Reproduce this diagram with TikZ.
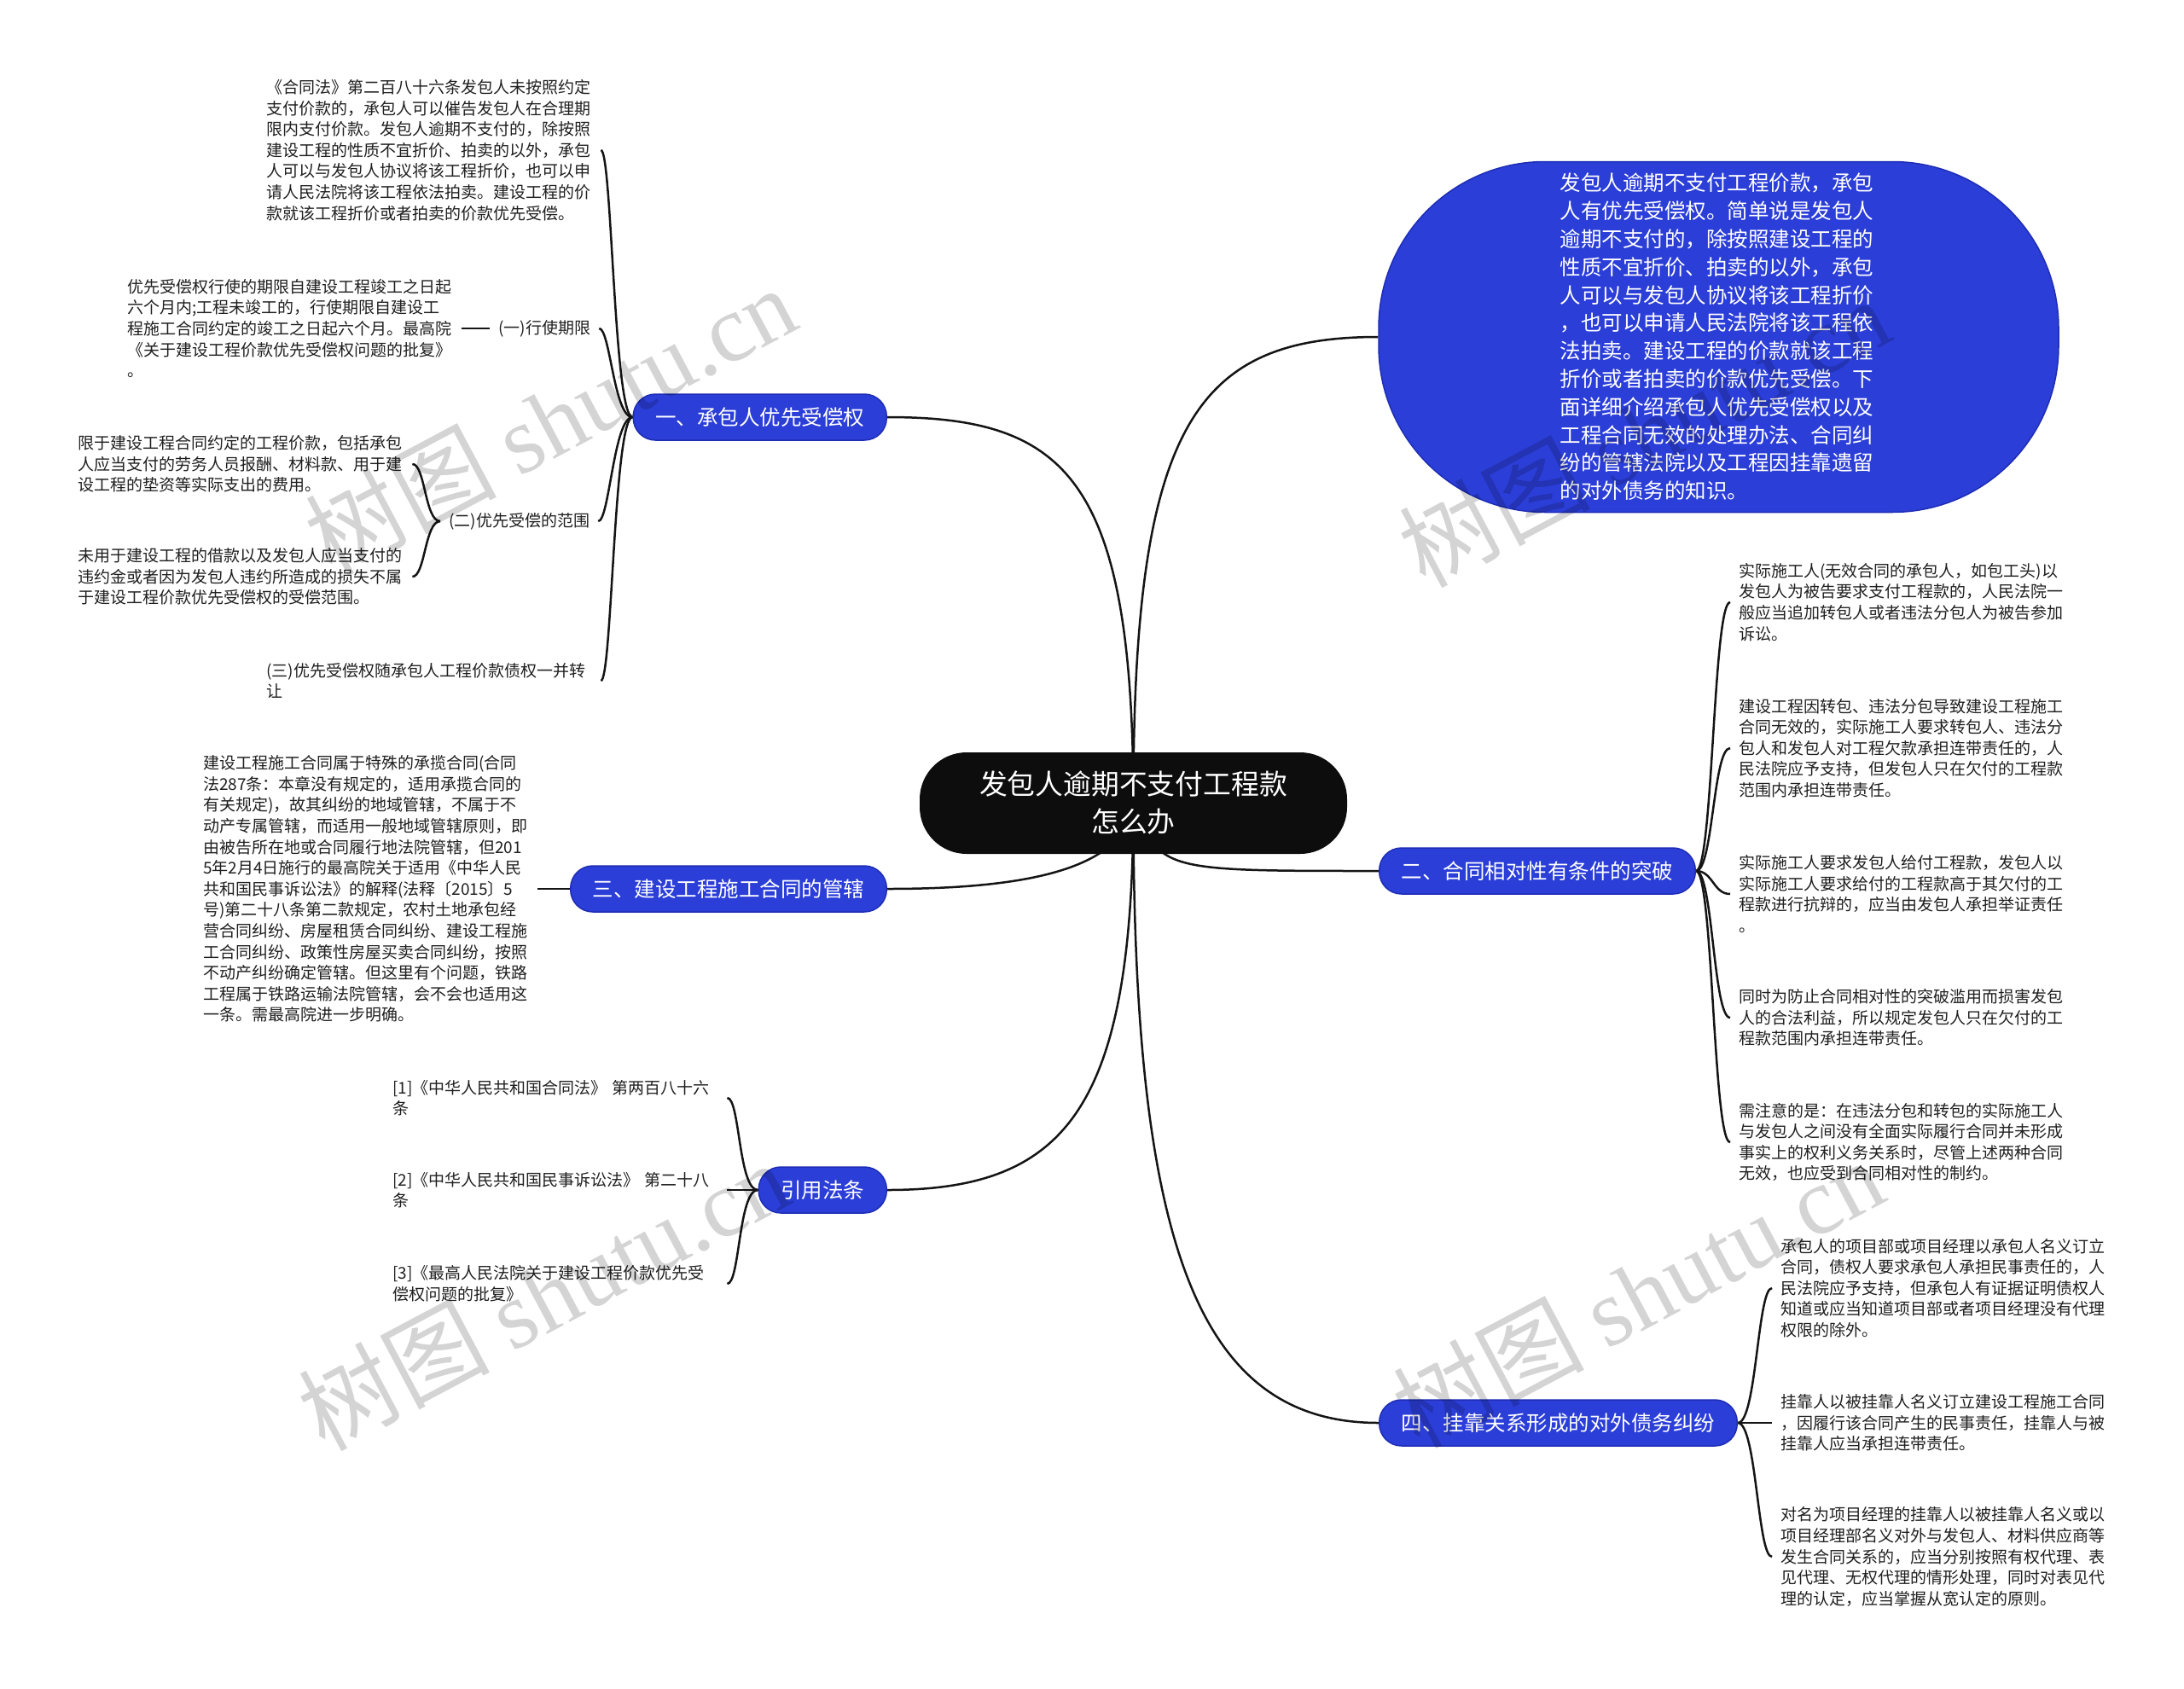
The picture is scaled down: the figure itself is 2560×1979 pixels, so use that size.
\documentclass[tikz,border=0pt]{standalone}
\usepackage{fontspec}
\setmainfont{Noto Sans CJK SC}
\newfontfamily\wmserif{Liberation Serif}
\usetikzlibrary{backgrounds}
\definecolor{nodeblue}{RGB}{43,62,216}
\definecolor{blueedge}{RGB}{30,45,180}
\definecolor{linecol}{RGB}{20,20,20}
\tikzset{
  conn/.style={draw=linecol, line width=2.5pt},
  branchbox/.style={fill=nodeblue, draw=blueedge, line width=1.5pt, rounded corners=26pt,
    minimum height=54pt, inner xsep=26pt, inner ysep=0pt, text=white,
    font=\fontsize{24.5}{30}\selectfont},
  leaf/.style={text width=382pt, align=left, inner xsep=10pt, inner ysep=2pt,
    font=\fontsize{19}{24.6}\selectfont, text=black!88},
  subleaf/.style={inner xsep=10pt, inner ysep=2pt, font=\fontsize{19}{24.6}\selectfont, text=black!88},
  wmark/.style={rotate=28, text=black, opacity=0.17, font=\fontsize{112}{112}\selectfont}
}
\begin{document}
\begin{tikzpicture}[x=1pt,y=-1pt]
\useasboundingbox (0,0) rectangle (2560,1979);

% center
\node[fill=black!95, rounded corners=55pt, minimum width=501pt, minimum height=119pt,
  text=white, align=center, font=\fontsize{32.8}{44}\selectfont] (c) at (1328.5,941.5)
  {发包人逾期不支付工程款\\怎么办};

% top-right summary
\node[fill=nodeblue, draw=blueedge, line width=1.5pt, rounded corners=195pt,
  minimum width=797pt, minimum height=411pt, text=white, text width=372pt, align=left,
  font=\fontsize{24.5}{32.8}\selectfont] (tb) at (2014.5,395)
  {发包人逾期不支付工程价款，承包\\
人有优先受偿权。简单说是发包人\\
逾期不支付的，除按照建设工程的\\
性质不宜折价、拍卖的以外，承包\\
人可以与发包人协议将该工程折价\\
，也可以申请人民法院将该工程依\\
法拍卖。建设工程的价款就该工程\\
折价或者拍卖的价款优先受偿。下\\
面详细介绍承包人优先受偿权以及\\
工程合同无效的处理办法、合同纠\\
纷的管辖法院以及工程因挂靠遗留\\
的对外债务的知识。};

% branches
\node[branchbox, anchor=east] (b1) at (1040,489) {一、承包人优先受偿权};
\node[branchbox, anchor=east] (b3) at (1040,1042) {三、建设工程施工合同的管辖};
\node[branchbox, anchor=east] (b4) at (1040,1395) {引用法条};
\node[branchbox, anchor=west] (b2) at (1616,1021) {二、合同相对性有条件的突破};
\node[branchbox, anchor=west] (b5) at (1616,1668) {四、挂靠关系形成的对外债务纠纷};

% branch 1 children
\node[leaf, anchor=west] (l1a) at (302,176) {《合同法》第二百八十六条发包人未按照约定\\
支付价款的，承包人可以催告发包人在合理期\\
限内支付价款。发包人逾期不支付的，除按照\\
建设工程的性质不宜折价、拍卖的以外，承包\\
人可以与发包人协议将该工程折价，也可以申\\
请人民法院将该工程依法拍卖。建设工程的价\\
款就该工程折价或者拍卖的价款优先受偿。};
\node[subleaf, anchor=west] (s1) at (574,385) {(一)行使期限};
\node[leaf, anchor=west] (l1b) at (139,385) {优先受偿权行使的期限自建设工程竣工之日起\\
六个月内;工程未竣工的，行使期限自建设工\\
程施工合同约定的竣工之日起六个月。最高院\\
《关于建设工程价款优先受偿权问题的批复》\\
。};
\node[subleaf, anchor=west] (s2) at (516,611) {(二)优先受偿的范围};
\node[leaf, anchor=west] (l1c) at (81,544) {限于建设工程合同约定的工程价款，包括承包\\
人应当支付的劳务人员报酬、材料款、用于建\\
设工程的垫资等实际支出的费用。};
\node[leaf, anchor=west] (l1d) at (81,676) {未用于建设工程的借款以及发包人应当支付的\\
违约金或者因为发包人违约所造成的损失不属\\
于建设工程价款优先受偿权的受偿范围。};
\node[leaf, anchor=west] (s3) at (302,798) {(三)优先受偿权随承包人工程价款债权一并转\\让};

% branch 3 child
\node[leaf, anchor=west] (l3a) at (228,1042) {建设工程施工合同属于特殊的承揽合同(合同\\
法287条：本章没有规定的，适用承揽合同的\\
有关规定)，故其纠纷的地域管辖，不属于不\\
动产专属管辖，而适用一般地域管辖原则，即\\
由被告所在地或合同履行地法院管辖，但201\\
5年2月4日施行的最高院关于适用《中华人民\\
共和国民事诉讼法》的解释(法释〔2015〕5\\
号)第二十八条第二款规定，农村土地承包经\\
营合同纠纷、房屋租赁合同纠纷、建设工程施\\
工合同纠纷、政策性房屋买卖合同纠纷，按照\\
不动产纠纷确定管辖。但这里有个问题，铁路\\
工程属于铁路运输法院管辖，会不会也适用这\\
一条。需最高院进一步明确。};

% references
\node[leaf, anchor=west] (l4a) at (450,1287) {[1]《中华人民共和国合同法》 第两百八十六\\条};
\node[leaf, anchor=west] (l4b) at (450,1395) {[2]《中华人民共和国民事诉讼法》 第二十八\\条};
\node[leaf, anchor=west] (l4c) at (450,1505) {[3]《最高人民法院关于建设工程价款优先受\\偿权问题的批复》};

% branch 2 children
\node[leaf, anchor=west] (l2a) at (2028,706) {实际施工人(无效合同的承包人，如包工头)以\\
发包人为被告要求支付工程款的，人民法院一\\
般应当追加转包人或者违法分包人为被告参加\\
诉讼。};
\node[leaf, anchor=west] (l2b) at (2028,877) {建设工程因转包、违法分包导致建设工程施工\\
合同无效的，实际施工人要求转包人、违法分\\
包人和发包人对工程欠款承担连带责任的，人\\
民法院应予支持，但发包人只在欠付的工程款\\
范围内承担连带责任。};
\node[leaf, anchor=west] (l2c) at (2028,1048) {实际施工人要求发包人给付工程款，发包人以\\
实际施工人要求给付的工程款高于其欠付的工\\
程款进行抗辩的，应当由发包人承担举证责任\\
。};
\node[leaf, anchor=west] (l2d) at (2028,1193) {同时为防止合同相对性的突破滥用而损害发包\\
人的合法利益，所以规定发包人只在欠付的工\\
程款范围内承担连带责任。};
\node[leaf, anchor=west] (l2e) at (2028,1339) {需注意的是：在违法分包和转包的实际施工人\\
与发包人之间没有全面实际履行合同并未形成\\
事实上的权利义务关系时，尽管上述两种合同\\
无效，也应受到合同相对性的制约。};

% branch 4 children
\node[leaf, anchor=west] (l5a) at (2077,1510) {承包人的项目部或项目经理以承包人名义订立\\
合同，债权人要求承包人承担民事责任的，人\\
民法院应予支持，但承包人有证据证明债权人\\
知道或应当知道项目部或者项目经理没有代理\\
权限的除外。};
\node[leaf, anchor=west] (l5b) at (2077,1668) {挂靠人以被挂靠人名义订立建设工程施工合同\\
，因履行该合同产生的民事责任，挂靠人与被\\
挂靠人应当承担连带责任。};
\node[leaf, anchor=west] (l5c) at (2077,1825) {对名为项目经理的挂靠人以被挂靠人名义或以\\
项目经理部名义对外与发包人、材料供应商等\\
发生合同关系的，应当分别按照有权代理、表\\
见代理、无权代理的情形处理，同时对表见代\\
理的认定，应当掌握从宽认定的原则。};

\begin{scope}[on background layer]
  \fill[white] (0,0) rectangle (2560,1979);
  % center connectors
  \draw[conn] (c.center) .. controls (1328,500) and (1400,395) .. (tb.west);
  \draw[conn] (c.center) .. controls (1328,560) and (1250,489) .. (b1.east);
  \draw[conn] (c.center) .. controls (1320,1020) and (1200,1042) .. (b3.east);
  \draw[conn] (c.center) .. controls (1360,1021) .. (b2.west);
  \draw[conn] (c.center) .. controls (1328,1300) and (1250,1395) .. (b4.east);
  \draw[conn] (c.center) .. controls (1328,1450) and (1400,1668) .. (b5.west);
  % branch 1
  \draw[conn] (b1.west) .. controls +(-22,0) and +(13,0) .. (l1a.east);
  \draw[conn] (b1.west) .. controls +(-22,0) and +(13,0) .. (s1.east);
  \draw[conn] (b1.west) .. controls +(-22,0) and +(13,0) .. (s2.east);
  \draw[conn] (b1.west) .. controls +(-22,0) and +(13,0) .. (s3.east);
  \draw[conn] (s1.west) -- (l1b.east);
  \draw[conn] (s2.west) .. controls +(-18,0) and +(15,0) .. (l1c.east);
  \draw[conn] (s2.west) .. controls +(-18,0) and +(15,0) .. (l1d.east);
  % branch 3
  \draw[conn] (b3.west) -- (l3a.east);
  % references
  \draw[conn] (b4.west) .. controls +(-23,0) and +(15,0) .. (l4a.east);
  \draw[conn] (b4.west) -- (l4b.east);
  \draw[conn] (b4.west) .. controls +(-23,0) and +(15,0) .. (l4c.east);
  % branch 2
  \foreach \t in {l2a,l2b,l2c,l2d,l2e}
    \draw[conn] (b2.east) .. controls +(20,0) and +(-20,0) .. (\t.west);
  % branch 4
  \foreach \t in {l5a,l5b,l5c}
    \draw[conn] (b5.east) .. controls +(22,0) and +(-17,0) .. (\t.west);
\end{scope}

% watermarks
\node[wmark] (w1) at (645,492) {树图 {\wmserif shutu.cn}};
\node[wmark] (w2) at (1927,506) {树图 {\wmserif shutu.cn}};
\node[wmark] (w3) at (637,1518) {树图 {\wmserif shutu.cn}};
\node[wmark] (w4) at (1920,1515) {树图 {\wmserif shutu.cn}};
\end{tikzpicture}
\end{document}
